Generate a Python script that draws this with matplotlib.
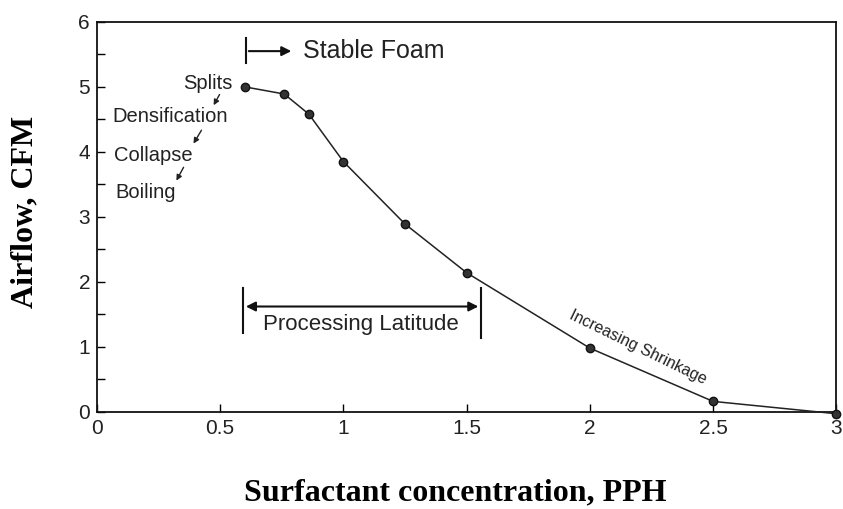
import matplotlib
matplotlib.use("Agg")
import matplotlib.pyplot as plt

conc = [0.6, 0.76, 0.86, 1.0, 1.25, 1.5, 2.0, 2.5, 3.0]
airflow = [5.0, 4.89, 4.58, 3.85, 2.89, 2.14, 0.98, 0.16, -0.03]
xticks = [0, 0.5, 1, 1.5, 2, 2.5, 3]
xticklabels = ["0", "0.5", "1", "1.5", "2", "2.5", "3"]
yticks = [0, 1, 2, 3, 4, 5, 6]
stages = ["Splits", "Densification", "Collapse", "Boiling"]
stage_x = [0.451, 0.296, 0.227, 0.199]
stage_y = [5.05, 4.54, 3.95, 3.37]

sans = "Liberation Sans"
serif = "Liberation Serif"

fig = plt.figure(figsize=(8.43, 5.09), dpi=100)
ax = fig.add_axes([0.115, 0.191, 0.877, 0.766])

ax.plot(conc, airflow, color="#222222", lw=1.1, marker="o", ms=6,
        mfc="#333333", mec="#111111", clip_on=False, zorder=3)

ax.set_xlim(0, 3)
ax.set_ylim(0, 6)
ax.set_xticks(xticks)
ax.set_xticklabels(xticklabels)
ax.set_yticks(yticks)
ax.set_yticks([0.5, 1.5, 2.5, 3.5, 4.5, 5.5], minor=True)
ax.tick_params(axis="both", which="major", direction="in", length=6, width=1,
               labelsize=15, pad=5)
ax.tick_params(axis="both", which="minor", direction="in", length=6, width=1)
ax.tick_params(axis="x", which="minor", length=0)
for lab in ax.get_xticklabels() + ax.get_yticklabels():
    lab.set_fontfamily(sans)
    lab.set_color("#222222")
for s in ax.spines.values():
    s.set_linewidth(1.3)
    s.set_color("#111111")

ax.set_xlabel("Surfactant concentration, PPH", fontfamily=serif,
              fontweight="bold", fontsize=23, va="center")
ax.xaxis.set_label_coords(0.4844, -0.208)
ax.set_ylabel("Airflow, CFM", fontfamily=serif, fontweight="bold",
              fontsize=23, va="center")
ax.yaxis.set_label_coords(-0.0974, 0.513)

# Stage labels
for t, x, y in zip(stages, stage_x, stage_y):
    ax.text(x, y, t, fontfamily=sans, fontsize=14.5, ha="center", va="center",
            color="#222222")
arrows = [((0.503, 4.92), (0.468, 4.68)),
          ((0.430, 4.37), (0.386, 4.09)),
          ((0.357, 3.80), (0.317, 3.52))]
for (x0, y0), (x1, y1) in arrows:
    ax.annotate("", xy=(x1, y1), xytext=(x0, y0),
                arrowprops=dict(arrowstyle="-|>", color="#222222", lw=1,
                                mutation_scale=8))

# Stable Foam
ax.plot([0.605, 0.605], [5.37, 5.75], color="#111111", lw=1.5)
ax.annotate("", xy=(0.80, 5.55), xytext=(0.605, 5.55),
            arrowprops=dict(arrowstyle="-|>", color="#111111", lw=1.5,
                            mutation_scale=14))
ax.text(0.836, 5.55, "Stable Foam", fontfamily=sans, fontsize=18,
        ha="left", va="center", color="#222222")

# Processing latitude
ax.plot([0.593, 0.593], [1.21, 1.91], color="#111111", lw=1.5)
ax.plot([1.559, 1.559], [1.14, 1.91], color="#111111", lw=1.5)
ax.annotate("", xy=(0.593, 1.62), xytext=(1.559, 1.62),
            arrowprops=dict(arrowstyle="<|-|>", color="#111111", lw=1.5,
                            mutation_scale=14))
ax.text(1.072, 1.34, "Processing Latitude", fontfamily=sans, fontsize=16,
        ha="center", va="center", color="#222222")

# Increasing shrinkage
ax.text(2.197, 0.99, "Increasing Shrinkage", fontfamily=sans, fontsize=11.5,
        ha="center", va="center", rotation=-26, rotation_mode="anchor",
        color="#222222")

fig.savefig("out.png", dpi=100)
